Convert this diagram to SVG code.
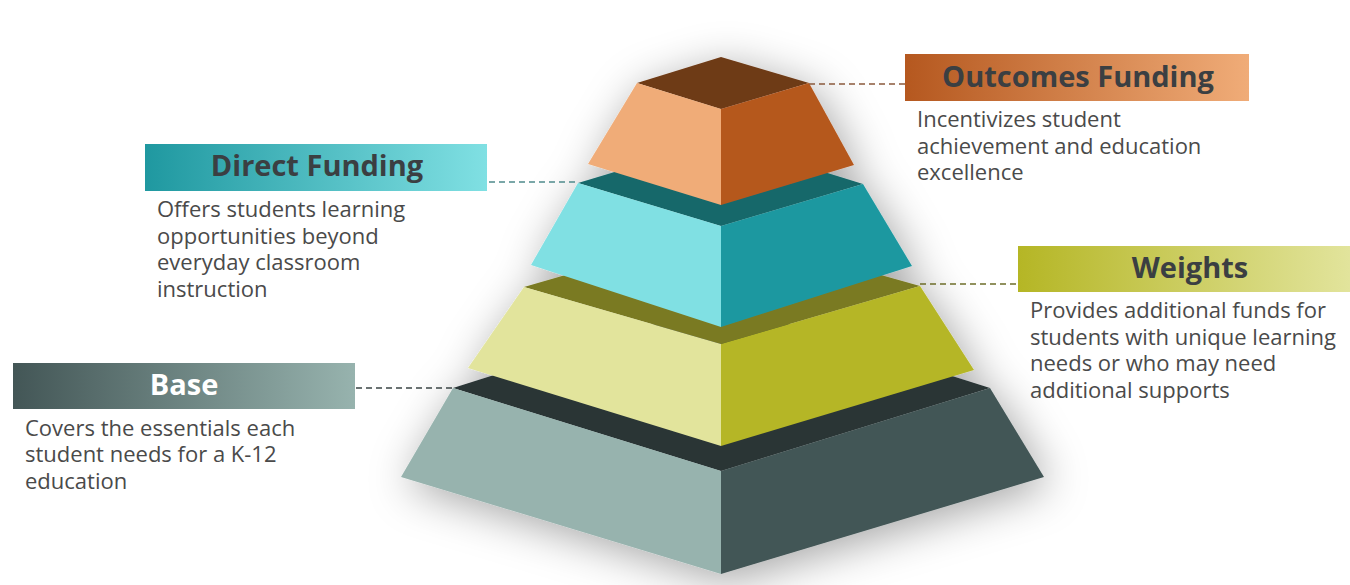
<svg xmlns="http://www.w3.org/2000/svg" width="1350" height="585" viewBox="0 0 1350 585">
<defs>
<style>
.title{font-family:"Open Sans","Liberation Sans",sans-serif;font-weight:700;font-size:29px;fill:#3b3f42;text-anchor:middle}
.desc{font-family:"Open Sans","Liberation Sans",sans-serif;font-size:22px;fill:#4a4a4a}
.dash{fill:none;stroke-width:1.3;stroke-dasharray:6 4}
</style>
<linearGradient id="gOut" x1="0" y1="0" x2="1" y2="0"><stop offset="0" stop-color="#B5581F"/><stop offset="1" stop-color="#F0AC78"/></linearGradient>
<linearGradient id="gDir" x1="0" y1="0" x2="1" y2="0"><stop offset="0" stop-color="#1F98A0"/><stop offset="1" stop-color="#80E0E3"/></linearGradient>
<linearGradient id="gWei" x1="0" y1="0" x2="1" y2="0"><stop offset="0" stop-color="#B5B625"/><stop offset="1" stop-color="#E2E49C"/></linearGradient>
<linearGradient id="gBase" x1="0" y1="0" x2="1" y2="0"><stop offset="0" stop-color="#435656"/><stop offset="1" stop-color="#97B3AE"/></linearGradient>
<filter id="shadow" x="-30%" y="-30%" width="160%" height="160%">
<feGaussianBlur in="SourceAlpha" stdDeviation="22"/>
<feOffset dx="6" dy="8" result="b"/>
<feFlood flood-color="#000" flood-opacity="0.35"/>
<feComposite in2="b" operator="in" result="s"/>
<feMerge><feMergeNode in="s"/><feMergeNode in="SourceGraphic"/></feMerge>
</filter>
</defs>
<rect width="1350" height="585" fill="#fff"/>
<g id="pyramid" filter="url(#shadow)">
<g id="tier-base">
<polygon points="721,303 990,388 721,471 453,388" fill="#293536"/>
<polygon points="453,388 721,471 721,574 401,477" fill="#97B3AE"/>
<polygon points="721,471 990,388 1044,477 721,574" fill="#435656"/>
</g>
<g id="tier-weights">
<polygon points="721,230 920,286 721,344 524,287" fill="#7A7A22"/>
<polygon points="524,287 721,344 721,446 468,368" fill="#E2E49C"/>
<polygon points="721,344 920,286 974,370 721,446" fill="#B5B625"/>
</g>
<g id="tier-direct">
<polygon points="721,140 863,184 721,226 578,183" fill="#17686A"/>
<polygon points="578,183 721,226 721,327 531,265" fill="#80E0E3"/>
<polygon points="721,226 863,184 912,266 721,327" fill="#1F98A0"/>
</g>
<g id="tier-outcomes">
<polygon points="721,57 809,83 721,109 637,83" fill="#6E3A16"/>
<polygon points="637,83 721,109 721,205 588,164" fill="#F0AC78"/>
<polygon points="721,109 809,83 854,165 721,205" fill="#B5581F"/>
</g>
</g>
<g id="connectors">
<line class="dash" x1="809" y1="84" x2="905" y2="84" stroke="#8a5a3c"/>
<line class="dash" x1="489" y1="182" x2="578" y2="182" stroke="#4f8a8c"/>
<line class="dash" x1="920" y1="284" x2="1018" y2="284" stroke="#6d6d2a"/>
<line class="dash" x1="356" y1="388" x2="453" y2="388" stroke="#3a4444"/>
</g>
<g id="label-outcomes">
<rect x="905" y="54" width="344" height="47" fill="url(#gOut)"/>
<text class="title" x="1078" y="87">Outcomes Funding</text>
<text class="desc" x="917" y="127">Incentivizes student</text>
<text class="desc" x="917" y="154">achievement and education</text>
<text class="desc" x="917" y="180">excellence</text>
</g>
<g id="label-direct">
<rect x="145" y="144" width="342" height="47" fill="url(#gDir)"/>
<text class="title" x="317" y="176">Direct Funding</text>
<text class="desc" x="157" y="217">Offers students learning</text>
<text class="desc" x="157" y="244">opportunities beyond</text>
<text class="desc" x="157" y="270">everyday classroom</text>
<text class="desc" x="157" y="297">instruction</text>
</g>
<g id="label-weights">
<rect x="1018" y="246" width="332" height="46" fill="url(#gWei)"/>
<text class="title" x="1190" y="278">Weights</text>
<text class="desc" x="1030" y="318">Provides additional funds for</text>
<text class="desc" x="1030" y="345">students with unique learning</text>
<text class="desc" x="1030" y="371">needs or who may need</text>
<text class="desc" x="1030" y="398">additional supports</text>
</g>
<g id="label-base">
<rect x="13" y="363" width="342" height="46" fill="url(#gBase)"/>
<text class="title" x="184" y="395" style="fill:#fff">Base</text>
<text class="desc" x="25" y="436">Covers the essentials each</text>
<text class="desc" x="25" y="462">student needs for a K-12</text>
<text class="desc" x="25" y="489">education</text>
</g>
</svg>
